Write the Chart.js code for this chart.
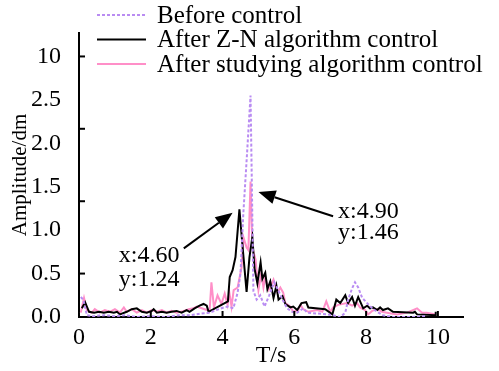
<!DOCTYPE html>
<html>
<head>
<meta charset="utf-8">
<script src="https://cdn.jsdelivr.net/npm/chart.js@4.4.1/dist/chart.umd.min.js"></script>
<style>
  html, body { margin: 0; padding: 0; background: #fff; }
  #wrap { width: 499px; height: 371px; position: relative; }
</style>
</head>
<body>
<div id="wrap"><canvas id="grafico" width="499" height="371"></canvas></div>
<script>
// Datos
const seriesNames = ['Before control', 'After Z-N algorithm control', 'After studying algorithm control'];

const beforeT = [0.05, 0.12, 0.22, 0.4, 0.7, 1.0, 1.3, 1.6, 2.0, 2.4, 2.8, 3.1, 3.4, 3.64, 3.83, 4.03, 4.15, 4.3, 4.42, 4.5, 4.58, 4.67, 4.78,
  4.86, 4.95, 5.05, 5.17, 5.3, 5.44, 5.56, 5.67, 5.8, 5.94, 6.08, 6.25, 6.36, 6.64, 6.92, 7.08, 7.28, 7.42, 7.5, 7.61, 7.69,
  7.78, 7.89, 8.03, 8.17, 8.31, 8.47, 8.75, 9.22, 9.69];
const beforeAmp = [0.23, 0.2, 0.02, 0.01, 0.02, 0.01, 0.02, 0.0, 0.01, 0.0, 0.02, 0.02, 0.04, 0.05, 0.08, 0.11, 0.12, 0.1, 0.28, 0.5, 1.2, 1.8, 2.55,
  0.3, 0.2, 0.25, 0.12, 0.25, 0.4, 0.3, 0.2, 0.1, 0.06, 0.05, 0.1, 0.05, 0.04, 0.03, 0.02, 0.0, 0.05, 0.2, 0.33, 0.4,
  0.34, 0.22, 0.16, 0.1, 0.06, 0.02, 0.0, 0.0, 0.01];

const znT = [0.08, 0.17, 0.28, 0.42, 0.56, 0.69, 0.83, 0.97, 1.06, 1.14, 1.33, 1.47, 1.61, 1.75, 1.89, 2.03, 2.08, 2.17, 2.31, 2.44,
  2.58, 2.72, 2.86, 3.0, 3.08, 3.22, 3.36, 3.47, 3.56, 3.61, 4.15, 4.2, 4.28, 4.36, 4.47, 4.56, 4.67, 4.75, 4.83, 4.89,
  4.97, 5.06, 5.11, 5.19, 5.25, 5.33, 5.42, 5.5, 5.56, 5.67, 5.75, 5.89, 5.97, 6.08, 6.2, 6.33, 6.39, 6.86, 7.06, 7.17,
  7.28, 7.42, 7.5, 7.61, 7.69, 7.78, 7.92, 8.03, 8.11, 8.19, 8.31, 8.39, 8.47, 8.61, 8.75, 9.31, 9.36, 9.42, 9.94, 9.94];
const znAmp = [0.1, 0.17, 0.06, 0.05, 0.06, 0.05, 0.06, 0.05, 0.06, 0.03, 0.06, 0.09, 0.1, 0.06, 0.05, 0.07, 0.09, 0.05, 0.06, 0.05,
  0.06, 0.07, 0.05, 0.08, 0.06, 0.1, 0.13, 0.15, 0.13, 0.06, 0.18, 0.46, 0.54, 0.69, 1.24, 0.8, 0.29, 0.69, 0.92, 0.56,
  0.39, 0.63, 0.44, 0.51, 0.32, 0.41, 0.22, 0.36, 0.2, 0.24, 0.15, 0.11, 0.12, 0.08, 0.16, 0.17, 0.11, 0.09, 0.03, 0.2,
  0.16, 0.25, 0.16, 0.23, 0.13, 0.23, 0.1, 0.13, 0.1, 0.11, 0.08, 0.11, 0.08, 0.1, 0.06, 0.05, 0.06, 0.03, 0.02, 0.06];

const studyT = [0.05, 0.14, 0.22, 0.36, 0.44, 0.58, 0.72, 0.86, 1.0, 1.14, 1.25, 1.33, 1.47, 1.61, 1.75, 1.89, 2.03, 2.17, 2.31, 2.44,
  2.58, 2.72, 2.92, 3.06, 3.19, 3.28, 3.42, 3.56, 3.64, 3.69, 3.76, 3.86, 3.97, 4.06, 4.14, 4.19, 4.25, 4.31, 4.42, 4.53,
  4.58, 4.67, 4.72, 4.78, 4.83, 4.92, 4.97, 5.0, 5.08, 5.14, 5.19, 5.28, 5.33, 5.42, 5.53, 5.61, 5.69, 5.75, 5.89, 5.97,
  6.11, 6.17, 6.25, 6.39, 6.64, 6.78, 6.89, 7.0, 7.08, 7.22, 7.47, 7.61, 7.75, 7.83, 7.97, 8.06, 8.17, 8.31, 8.44, 8.58,
  8.86, 9.14, 9.42, 9.56, 9.69, 9.94];
const studyAmp = [0.05, 0.22, 0.08, 0.05, 0.09, 0.05, 0.08, 0.06, 0.09, 0.05, 0.11, 0.06, 0.09, 0.05, 0.08, 0.05, 0.08, 0.06, 0.08, 0.05,
  0.07, 0.05, 0.07, 0.09, 0.1, 0.12, 0.1, 0.08, 0.08, 0.4, 0.11, 0.25, 0.15, 0.27, 0.14, 0.28, 0.12, 0.31, 0.34, 0.57,
  0.92, 0.8, 0.77, 1.56, 0.8, 0.66, 0.43, 0.31, 0.51, 0.34, 0.46, 0.31, 0.34, 0.43, 0.28, 0.34, 0.28, 0.16, 0.12, 0.06,
  0.08, 0.14, 0.09, 0.06, 0.08, 0.06, 0.18, 0.06, 0.11, 0.14, 0.16, 0.13, 0.16, 0.11, 0.08, 0.03, 0.07, 0.09, 0.06, 0.05,
  0.03, 0.05, 0.1, 0.05, 0.05, 0.03];

// Ejes: la marca superior del eje Y se rotula "10" (eje cortado)
const xTicks = [0, 2, 4, 6, 8, 10];
const yTicks = [0, 0.5, 1, 1.5, 2, 2.5, 3];
const yTickLabels = ['0.0', '0.5', '1.0', '1.5', '2.0', '2.5', '10'];
const yMarks = [0.5, 1.333, 2.167, 3];
const xMarks = [2, 4, 6, 8, 10];

// Anotaciones (coordenadas de datos)
const notes = [
  { lines: ['x:4.60', 'y:1.24'], at: [1.11, 0.71], gap: 0.28, from: [2.92, 0.79], to: [4.28, 1.2] },
  { lines: ['x:4.90', 'y:1.46'], at: [7.22, 1.21], gap: 0.24, from: [7.08, 1.16], to: [5.0, 1.44] }
];

function toPoints(ts, vals) {
  return ts.map((t, i) => ({ x: t, y: vals[i] }));
}

// Leyenda, marcas internas y flechas
const extrasPlugin = {
  id: 'extras',
  afterDraw(chart) {
    const ctx = chart.ctx;
    const xs = chart.scales.x, ys = chart.scales.y;
    ctx.save();

    // marcas de los ejes hacia dentro
    ctx.strokeStyle = '#000';
    ctx.lineWidth = 2;
    ctx.setLineDash([]);
    yMarks.forEach(v => {
      const py = ys.getPixelForValue(v);
      ctx.beginPath(); ctx.moveTo(xs.left, py); ctx.lineTo(xs.left + 6, py); ctx.stroke();
    });
    xMarks.forEach(v => {
      const px = xs.getPixelForValue(v);
      ctx.beginPath(); ctx.moveTo(px, ys.bottom); ctx.lineTo(px, ys.bottom - 6); ctx.stroke();
    });

    // leyenda
    ctx.font = '25px "Liberation Serif"';
    ctx.textBaseline = 'middle';
    ctx.textAlign = 'left';
    chart.data.datasets.forEach((ds, i) => {
      const y = 15 + i * 24.5;
      ctx.strokeStyle = ds.borderColor;
      ctx.lineWidth = ds.borderWidth;
      ctx.setLineDash(ds.borderDash || []);
      ctx.beginPath(); ctx.moveTo(97, y); ctx.lineTo(146, y); ctx.stroke();
      ctx.fillStyle = '#000';
      ctx.fillText(ds.label, 157, y + 1);
    });
    ctx.setLineDash([]);

    // anotaciones con flecha
    ctx.font = '24px "Liberation Serif"';
    notes.forEach(n => {
      const x0 = xs.getPixelForValue(n.from[0]), y0 = ys.getPixelForValue(n.from[1]);
      const x1 = xs.getPixelForValue(n.to[0]), y1 = ys.getPixelForValue(n.to[1]);
      const ang = Math.atan2(y1 - y0, x1 - x0);
      const head = 17, half = 7;
      const bx = x1 - head * Math.cos(ang), by = y1 - head * Math.sin(ang);
      ctx.strokeStyle = '#000';
      ctx.lineWidth = 2;
      ctx.beginPath(); ctx.moveTo(x0, y0); ctx.lineTo(bx, by); ctx.stroke();
      ctx.fillStyle = '#000';
      ctx.beginPath();
      ctx.moveTo(x1, y1);
      ctx.lineTo(bx + half * Math.sin(ang), by - half * Math.cos(ang));
      ctx.lineTo(bx - half * Math.sin(ang), by + half * Math.cos(ang));
      ctx.closePath();
      ctx.fill();

      const tx = xs.getPixelForValue(n.at[0]);
      n.lines.forEach((txt, k) => {
        ctx.fillText(txt, tx, ys.getPixelForValue(n.at[1] - k * n.gap));
      });
    });
    ctx.restore();
  }
};

Chart.defaults.font.family = '"Liberation Serif", "Times New Roman", serif';
Chart.defaults.font.size = 24;
Chart.defaults.color = '#000';

new Chart(document.getElementById('grafico').getContext('2d'), {
  type: 'line',
  data: {
    datasets: [
      {
        label: seriesNames[0],
        data: toPoints(beforeT, beforeAmp),
        borderColor: '#b98cf2',
        borderWidth: 2,
        borderDash: [3, 2]
      },
      {
        label: seriesNames[1],
        data: toPoints(znT, znAmp),
        borderColor: '#000000',
        borderWidth: 2
      },
      {
        label: seriesNames[2],
        data: toPoints(studyT, studyAmp),
        borderColor: '#ff8fc8',
        borderWidth: 2
      }
    ]
  },
  options: {
    responsive: false,
    animation: false,
    devicePixelRatio: 1,
    layout: { padding: { top: 33, right: 36, left: 0, bottom: 0 } },
    elements: { point: { radius: 0 }, line: { tension: 0 } },
    plugins: { legend: { display: false }, tooltip: { enabled: false } },
    scales: {
      x: {
        type: 'linear',
        min: 0,
        max: 10.7,
        afterBuildTicks: axis => { axis.ticks = xTicks.map(v => ({ value: v })); },
        afterFit: axis => { axis.height = 54; },
        grid: { display: false },
        border: { display: true, color: '#000', width: 2 },
        ticks: { padding: -2, maxRotation: 0, autoSkip: false, font: { size: 24 } },
        title: { display: true, text: 'T/s', font: { size: 24 }, padding: { top: 0, bottom: 1 } }
      },
      y: {
        type: 'linear',
        min: 0,
        max: 3.27,
        afterBuildTicks: axis => { axis.ticks = yTicks.map(v => ({ value: v })); },
        afterFit: axis => { axis.width = 79; },
        grid: { display: false },
        border: { display: true, color: '#000', width: 2 },
        ticks: {
          padding: 10,
          autoSkip: false,
          font: { size: 24 },
          callback: function(value) {
            const i = yTicks.indexOf(value);
            return i >= 0 ? yTickLabels[i] : '';
          }
        },
        title: { display: true, text: 'Amplitude/dm', font: { size: 21 }, padding: { top: 8, bottom: 0 } }
      }
    }
  },
  plugins: [extrasPlugin]
});
</script>
</body>
</html>
